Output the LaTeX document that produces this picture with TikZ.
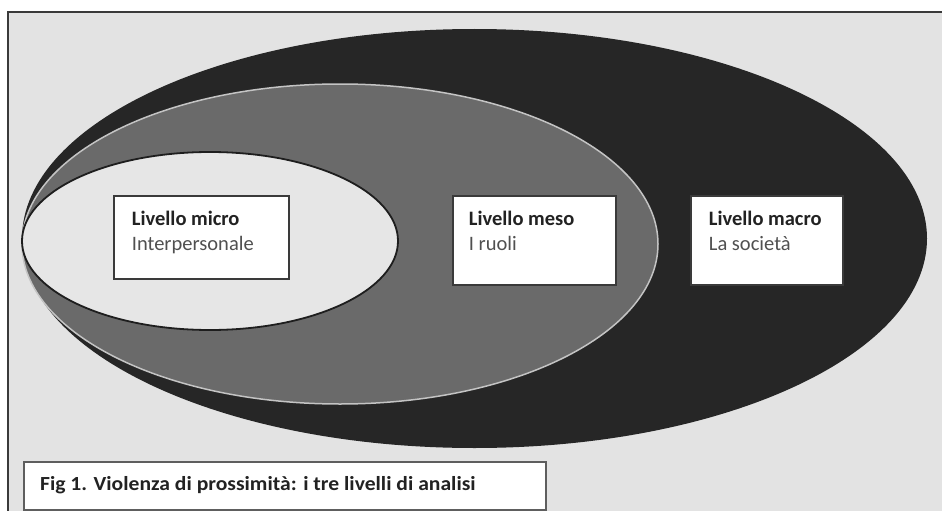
\documentclass[tikz,border=0pt]{standalone}
\usepackage{fontspec}
\setmainfont{Carlito}
\newfontfamily\capfont[FakeStretch=1.08]{Carlito}
\usepackage{xcolor}
\definecolor{bgcol}{HTML}{E3E3E3}
\definecolor{framecol}{HTML}{3A3A3A}
\definecolor{macrocol}{HTML}{262626}
\definecolor{mesocol}{HTML}{6A6A6A}
\definecolor{mesoline}{HTML}{C4C4C4}
\definecolor{microcol}{HTML}{E6E6E6}
\definecolor{microline}{HTML}{1E1E1E}
\definecolor{boxline}{HTML}{3A3A3A}
\definecolor{capline}{HTML}{5E5E5E}
\definecolor{txtdark}{HTML}{222222}
\definecolor{txtgray}{HTML}{505050}
\newcommand\lvpair[5]{\parbox[t][#2][t]{#1}{\fontsize{20.5}{25}\selectfont\vspace*{12.5pt}\leftskip=#3\strut\textcolor{txtdark}{\textbf{#4}}\\\strut\textcolor{txtgray}{#5}}}
\begin{document}
\begin{tikzpicture}[x=1pt,y=-1pt,
  lvbox/.style={draw=boxline, line width=1.8pt, fill=white, inner sep=0pt, anchor=north west},
  capbox/.style={draw=capline, line width=2.2pt, fill=white, inner sep=0pt, anchor=north west}
]
\useasboundingbox (0,0) rectangle (942,511);
\fill[white] (0,0) rectangle (942,511);
\fill[bgcol] (8,12) rectangle (942,511);
\draw[framecol, line width=1.5pt] (942,12) -- (8,12) -- (8,511);
% macro
\fill[macrocol] (474.5,238.5) ellipse [x radius=452.5pt, y radius=209.5pt];
% meso
\filldraw[fill=mesocol, draw=mesoline, line width=1.5pt] (340,244) ellipse [x radius=318pt, y radius=160pt];
% micro
\filldraw[fill=microcol, draw=microline, line width=1.8pt] (210,241) ellipse [x radius=188pt, y radius=89pt];
% boxes
\node[lvbox] (micro) at (113,195) {\lvpair{175pt}{83pt}{18pt}{Livello micro}{Interpersonale}};
\node[lvbox] (meso) at (452,195) {\lvpair{163pt}{89pt}{16pt}{Livello meso}{I ruoli}};
\node[lvbox] (macro) at (690,195) {\lvpair{152pt}{89pt}{18pt}{Livello macro}{La società}};
% caption
\node[capbox] (caption) at (23,461) {\parbox[t][48pt][t]{522pt}{\capfont\fontsize{20}{24}\selectfont\vspace*{12pt}\leftskip=16pt\strut\textcolor{txtdark}{\textbf{Fig 1. Violenza di prossimità: i tre livelli di analisi}}}};
\end{tikzpicture}
\end{document}
